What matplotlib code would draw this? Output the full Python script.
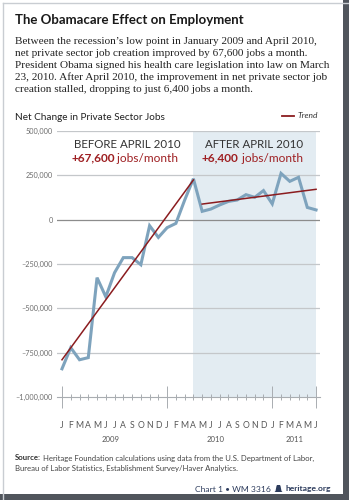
import matplotlib.pyplot as plt
from matplotlib.patches import Rectangle, Polygon

# Monthly net change in private sector jobs, Jan 2009 - Jun 2011
months = list(range(30))
month_letters = ["J", "F", "M", "A", "M", "J", "J", "A", "S", "O", "N", "D"] * 2 + ["J", "F", "M", "A", "M", "J"]
years = ["2009", "2010", "2011"]
year_centers = [5.5, 17.5, 26.5]
jobs = [-841000, -722000, -790000, -778000, -327000, -435000, -299000, -214000,
        -214000, -254000, -34000, -100000, -45000, -21000, 110000, 231000,
        47000, 60000, 83000, 103000, 111000, 141000, 126000, 164000,
        89000, 261000, 216000, 239000, 69000, 55000]
yticks = [500000, 250000, 0, -250000, -500000, -750000, -1000000]
ytick_labels = ["500,000", "250,000", "0", "\u2013250,000", "\u2013500,000", "\u2013750,000", "\u20131,000,000"]

# trends (jobs/month)
before_slope = 67600
before_start = -790000
after_slope = 6400
after_start = 88000
split_month = 15

intro_lines = [
    "Between the recession\u2019s low point in January 2009 and April 2010,",
    "net private sector job creation improved by 67,600 jobs a month.",
    "President Obama signed his health care legislation into law on March",
    "23, 2010. After April 2010, the improvement in net private sector job",
    "creation stalled, dropping to just 6,400 jobs a month.",
]

W, H = 349, 500
fig = plt.figure(figsize=(W / 100, H / 100), dpi=100)
sans = "Lato"
red = "#9e1f22"
navy = "#2c3b5c"

def px(x, y):
    return x / W, 1 - y / H

# frame
fig.patches.append(Rectangle((0, 0), 1, 1, transform=fig.transFigure, facecolor="white", edgecolor="none", zorder=-5))
fig.add_artist(plt.Line2D([3 / W, 3 / W], [0, 1 - 3 / H], color="#c9cdd2", lw=1))
fig.add_artist(plt.Line2D([3 / W, 1], [1 - 3 / H, 1 - 3 / H], color="#c9cdd2", lw=1))
fig.patches.append(Rectangle((343 / W, 0), 6 / W, 1, transform=fig.transFigure, facecolor="#50555c", edgecolor="none"))
fig.patches.append(Rectangle((0, 0), 1, 6 / H, transform=fig.transFigure, facecolor="#50555c", edgecolor="none"))

# title and intro
fig.text(*px(15, 20), "The Obamacare Effect on Employment", fontsize=9.5, fontweight="bold",
         family=sans, color="#1a1a1a", va="center")
for i, line in enumerate(intro_lines):
    fig.text(*px(15, 44 + 12 * i), line, fontsize=8.15, family="Liberation Serif",
             color="#222222", va="baseline")

fig.text(*px(15, 117), "Net Change in Private Sector Jobs", fontsize=7.2, family=sans,
         color="#222222", va="center")

# legend
fig.add_artist(plt.Line2D([282 / W, 294 / W], [1 - 116 / H] * 2, color="#8b1c1f", lw=1.3))
fig.text(*px(298, 116), "Trend", fontsize=6, style="italic", family=sans, color="#333333", va="center")

# axes
ax = fig.add_axes([57 / W, 1 - 397 / H, 263 / W, 266 / H])
ax.set_xlim(-0.57, 29.45)
ax.set_ylim(-1000000, 500000)
ax.axvspan(split_month, months[-1], color="#e3ecf2", lw=0, zorder=0)
for v in yticks[:-1]:
    ax.axhline(v, color="#8c8c8c" if v == 0 else "#c4c7ca", lw=0.9, zorder=1)

ax.plot(months, jobs, color="#7ea3bd", lw=2.2, solid_joinstyle="miter", zorder=3)
bm = months[:split_month + 1]
ax.plot(bm, [before_start + before_slope * m for m in bm], color="#8b1c1f", lw=1.1, zorder=4)
am = months[split_month + 1:]
ax.plot(am, [after_start + after_slope * (m - am[0]) for m in am], color="#8b1c1f", lw=1.1, zorder=4)

for s in ["top", "right", "left"]:
    ax.spines[s].set_visible(False)
ax.spines["bottom"].set_color("#a9adb1")
ax.spines["bottom"].set_linewidth(0.8)

ax.set_yticks(yticks)
ax.set_yticklabels(ytick_labels, family=sans, fontsize=5.3, color="#6d6d6d")
ax.tick_params(axis="y", length=0, pad=3)
ax.set_xticks([0, 12, 24, 29])
ax.set_xticks(months, minor=True)
ax.set_xticklabels([])
ax.tick_params(axis="x", which="major", direction="inout", length=15.5, width=0.7, color="#a9adb1")
ax.tick_params(axis="x", which="minor", direction="inout", length=4.3, width=0.7, color="#a9adb1")

trans = ax.get_xaxis_transform()
for m, lab in zip(months, month_letters):
    ax.text(m, -28 / 266, lab, transform=trans, ha="center", va="center", fontsize=6.2,
            family=sans, color="#555555")
for c, yr in zip(year_centers, years):
    ax.text(c, -42 / 266, yr, transform=trans, ha="center", va="center", fontsize=5.6,
            family=sans, color="#555555")

# period annotations
fig.text(*px(127, 144), "BEFORE APRIL 2010", fontsize=8.3, family=sans, color="#333333",
         ha="center", va="center")
t2 = fig.text(*px(71, 158), "+67,600", fontsize=8.6, family=sans, fontweight="bold", color=red, va="center")
ax.annotate(" jobs/month", xy=(1, 0.5), xycoords=t2, va="center", ha="left", fontsize=8.6,
            family=sans, color=red, annotation_clip=False)
fig.text(*px(254, 144), "AFTER APRIL 2010", fontsize=8.3, family=sans, color="#333333",
         ha="center", va="center")
t3 = fig.text(*px(202, 158), "+6,400", fontsize=8.6, family=sans, fontweight="bold", color=red, va="center")
ax.annotate(" jobs/month", xy=(1, 0.5), xycoords=t3, va="center", ha="left", fontsize=8.6,
            family=sans, color=red, annotation_clip=False)

# source
s1 = fig.text(*px(15, 458), "Source:", fontsize=5.6, fontweight="bold", family=sans, color="#333333", va="center")
ax.annotate(" Heritage Foundation calculations using data from the U.S. Department of Labor,",
            xy=(1, 0.5), xycoords=s1, va="center", ha="left", fontsize=5.6, family=sans,
            color="#444444", annotation_clip=False)
fig.text(*px(15, 468), "Bureau of Labor Statistics, Establishment Survey/Haver Analytics.",
         fontsize=5.6, family=sans, color="#444444", va="center")

# footer: heritage.org, bell icon, chart id laid out right to left
h = fig.text(*px(331, 489), "heritage.org", fontsize=6.1, fontweight="bold", family=sans,
             color=navy, ha="right", va="center")
r = fig.canvas.get_renderer()
hx0 = h.get_window_extent(r).x0  # pixels from left
bell_right = hx0 - 3
bell_left = bell_right - 8
bell = [(bell_left + 2.5, 485), (bell_right - 2.5, 485), (bell_right - 2, 486), (bell_right - 1, 491),
        (bell_right, 492), (bell_left, 492), (bell_left + 1, 491), (bell_left + 2, 486)]
fig.patches.append(Polygon([px(x, y) for x, y in bell], closed=True, transform=fig.transFigure,
                           facecolor=navy, edgecolor="none"))
fig.text(*px(bell_left - 4, 489), "Chart 1 \u2022 WM 3316", fontsize=6.1, family=sans, color=navy,
         ha="right", va="center")

fig.savefig("out.png", dpi=100)
